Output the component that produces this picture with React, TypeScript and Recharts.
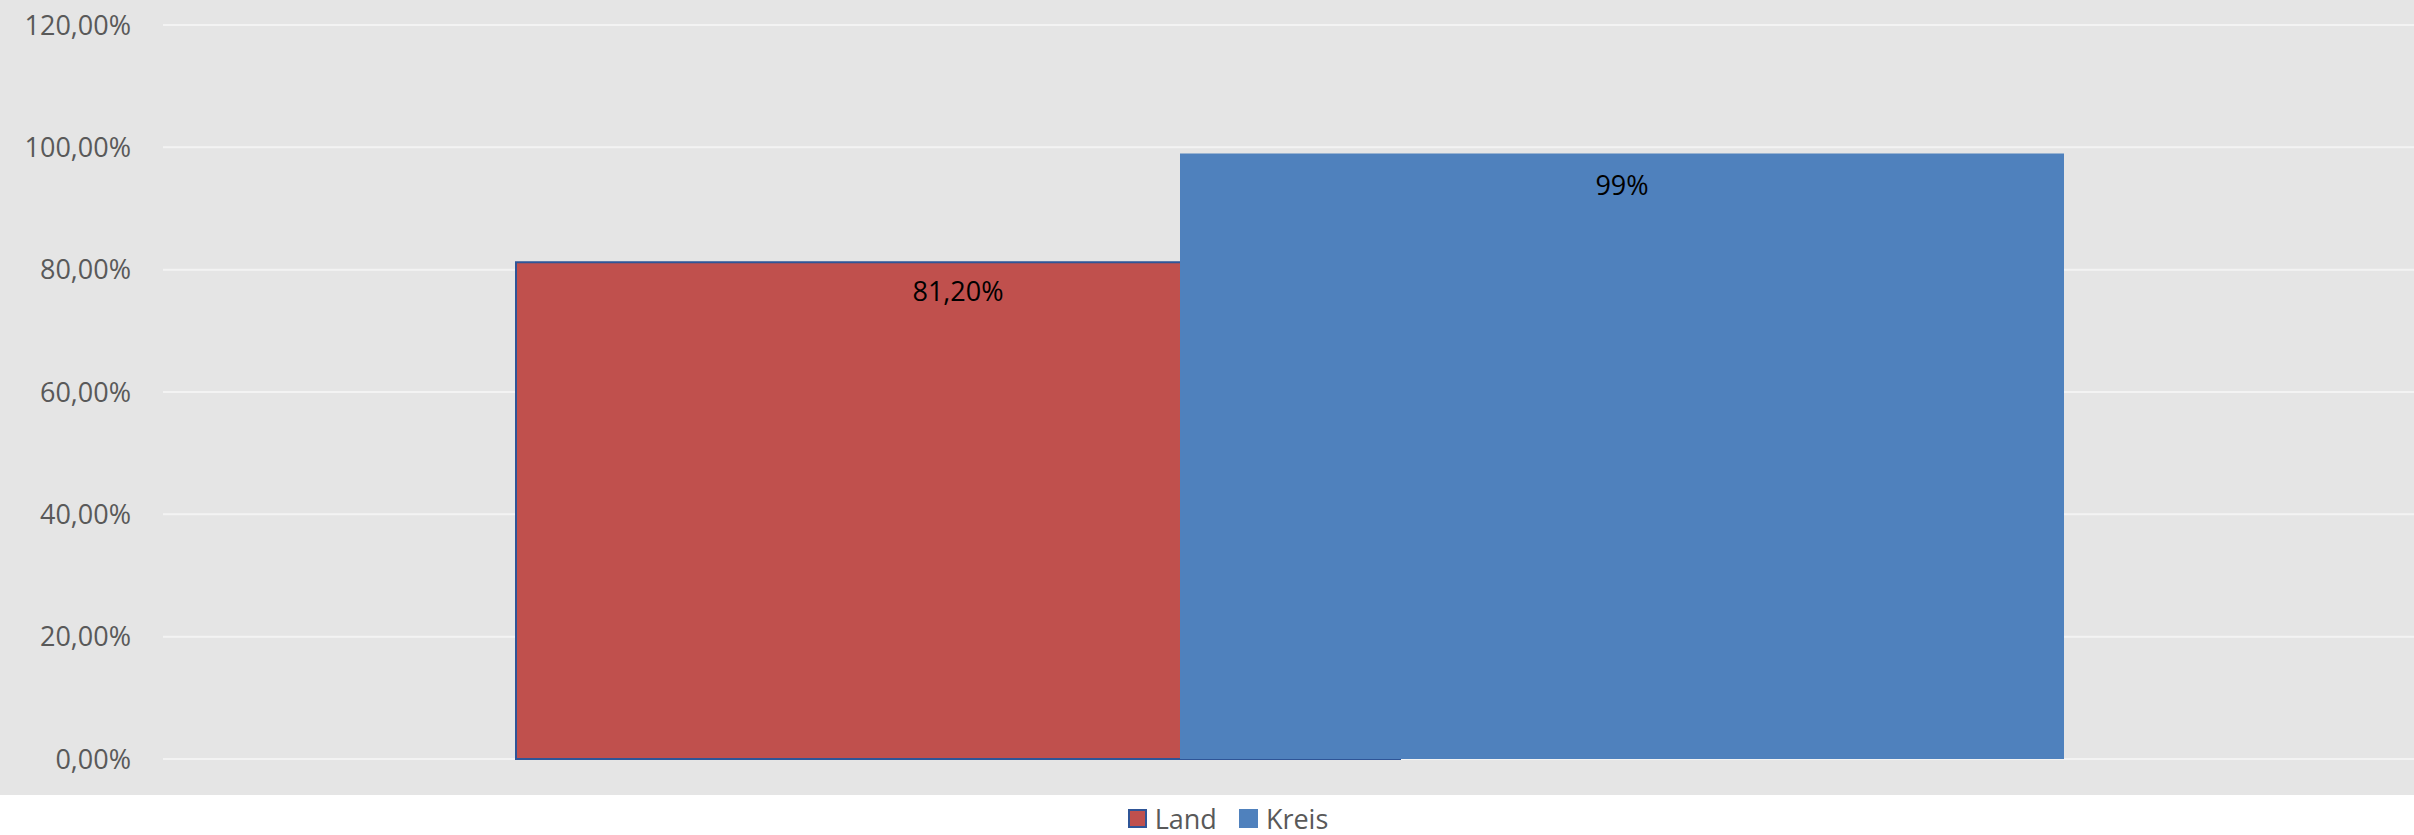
import * as React from "react";
import {
    Bar,
    BarChart,
    CartesianGrid,
    LabelList,
    Legend,
    XAxis,
    YAxis,
} from "recharts";

/* ---------- data ---------- */
const categories = ["Anteil"];
const landValues = [0.812];
const kreisValues = [0.99];
const yTicks = [0, 0.2, 0.4, 0.6, 0.8, 1.0, 1.2];

const landLabels = ["81,20%"];
const kreisLabels = ["99%"];

const data = categories.map((name, i) => ({
    name,
    land: landValues[i],
    kreis: kreisValues[i],
    landLabel: landLabels[i],
    kreisLabel: kreisLabels[i],
}));

const FONT = "'Open Sans', 'Noto Sans', sans-serif";
const RED = "#C0504D";
const BLUE = "#4F81BD";
const EDGE = "#2F5597";

const pct = (v: number) => (v * 100).toFixed(2).replace(".", ",") + "%";

/* ---------- legend ---------- */
function ChartLegend() {
    const items = [
        { label: "Land", color: RED, border: EDGE },
        { label: "Kreis", color: BLUE, border: BLUE },
    ];
    return (
        <div
            style={{
                display: "flex",
                justifyContent: "center",
                alignItems: "center",
                gap: 22,
                height: 34,
                fontFamily: FONT,
                fontSize: 27,
                color: "#595959",
                paddingLeft: 42,
            }}
        >
            {items.map((it) => (
                <div key={it.label} style={{ display: "flex", alignItems: "center", gap: 8 }}>
                    <span
                        style={{
                            display: "inline-block",
                            width: 15,
                            height: 15,
                            background: it.color,
                            border: `2px solid ${it.border}`,
                        }}
                    />
                    <span>{it.label}</span>
                </div>
            ))}
        </div>
    );
}

export default function App() {
    return (
        <div
            style={{
                position: "absolute",
                left: 0,
                top: 0,
                width: 2414,
                height: 835,
                background: "linear-gradient(to bottom, #E5E5E5 0px, #E5E5E5 795px, #FFFFFF 795px)",
            }}
        >
            <BarChart
                width={2414}
                height={835}
                data={data}
                margin={{ top: 25, right: -3, left: 0, bottom: 42 }}
                barSize={884}
                barGap={-220}
            >
                <CartesianGrid horizontal vertical={false} stroke="#F3F3F3" strokeWidth={2} />
                <XAxis dataKey="name" hide />
                <YAxis
                    width={163}
                    domain={[0, 1.2]}
                    ticks={yTicks}
                    tickFormatter={pct}
                    axisLine={false}
                    tickLine={false}
                    tickSize={0}
                    tickMargin={32}
                    tick={{ fill: "#595959", fontSize: 27, fontFamily: FONT }}
                />
                <Legend
                    content={<ChartLegend />}
                    verticalAlign="bottom"
                    wrapperStyle={{ top: 801, left: 0, width: 2414 }}
                />
                <Bar dataKey="land" name="Land" fill={RED} stroke={EDGE} strokeWidth={2} isAnimationActive={false}>
                    <LabelList
                        dataKey="landLabel"
                        position="insideTop"
                        offset={20}
                        fill="#000000"
                        fontSize={27}
                        fontFamily={FONT}
                    />
                </Bar>
                <Bar dataKey="kreis" name="Kreis" fill={BLUE} isAnimationActive={false}>
                    <LabelList
                        dataKey="kreisLabel"
                        position="insideTop"
                        offset={22}
                        fill="#000000"
                        fontSize={27}
                        fontFamily={FONT}
                    />
                </Bar>
            </BarChart>
        </div>
    );
}
